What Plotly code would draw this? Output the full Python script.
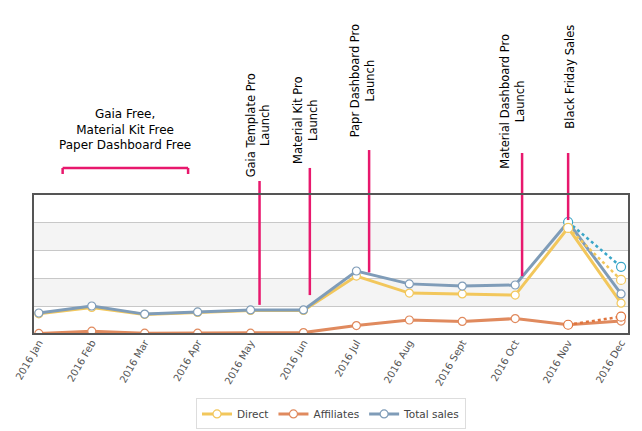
import plotly.graph_objects as go

months = ["2016 Jan","2016 Feb","2016 Mar","2016 Apr","2016 May","2016 Jun",
          "2016 Jul","2016 Aug","2016 Sept","2016 Oct","2016 Nov","2016 Dec"]
direct = [0.72,0.95,0.70,0.77,0.84,0.84,2.07,1.46,1.43,1.39,3.79,1.10]
affiliates = [0.02,0.10,0.03,0.03,0.03,0.05,0.30,0.50,0.45,0.55,0.33,0.46]
total = [0.75,1.00,0.71,0.79,0.86,0.86,2.25,1.79,1.71,1.75,4.00,1.43]
proj_direct = [3.79,1.93]
proj_aff = [0.33,0.62]
proj_total = [4.00,2.40]

events = ["Gaia Template Pro<br>Launch","Material Kit Pro<br>Launch","Papr Dashboard Pro<br>Launch",
          "Material Dashboard Pro<br>Launch","Black Friday Sales"]
event_x = [4.17,5.12,6.24,9.13,10.0]
event_bottom = [1.04,1.39,2.2,2.07,4.07]
event_top = [1.093,1.186,1.314,1.293,1.293]
event_text_x = [4.14,5.05,6.12,8.96,10.04]
event_text_y = [1.49,1.53,1.81,1.66,1.84]

YMAX = 5
x = list(range(len(months)))
fig = go.Figure()
cols = {"Direct":"#f2c75c","Affiliates":"#e08a5e","Total sales":"#7f9cb8"}
for name, vals in [("Direct",direct),("Affiliates",affiliates),("Total sales",total)]:
    fig.add_trace(go.Scatter(x=x, y=vals, name=name, mode="lines+markers",
        line=dict(color=cols[name], width=3),
        marker=dict(symbol="circle", size=8, color="white", line=dict(color=cols[name], width=1.2))))
for vals, c in [(proj_total,"#3aa6c8"),(proj_direct,"#f2c75c"),(proj_aff,"#e0753e")]:
    fig.add_trace(go.Scatter(x=[10,11], y=vals, mode="lines+markers", showlegend=False,
        line=dict(color=c, width=2.5, dash="dot"),
        marker=dict(symbol="circle", size=9, color="white", line=dict(color=c, width=1.2))))

shapes = []
for lo, hi in [(1,2),(3,4)]:
    shapes.append(dict(type="rect", xref="paper", yref="y", x0=0, x1=1, y0=lo, y1=hi,
                       fillcolor="#f4f4f4", line_width=0, layer="below"))
for ex, eb, et in zip(event_x, event_bottom, event_top):
    shapes.append(dict(type="line", xref="x", yref="paper", x0=ex, x1=ex, y0=eb/YMAX, y1=et,
                       line=dict(color="#e8186d", width=2.5)))
for seg in [(0.45,1.143,0.45,1.186),(0.45,1.186,2.82,1.186),(2.82,1.186,2.82,1.143)]:
    shapes.append(dict(type="line", xref="x", yref="paper", x0=seg[0], y0=seg[1], x1=seg[2], y1=seg[3],
                       line=dict(color="#e8186d", width=2.5)))
shapes.append(dict(type="rect", xref="paper", yref="paper", x0=0, x1=1, y0=0, y1=1,
                   line=dict(color="#555", width=2)))

anns = [dict(x=tx, y=ty, xref="x", yref="paper", text=t, textangle=-90, showarrow=False,
             xanchor="center", yanchor="middle",
             font=dict(size=11.5, color="black")) for t, tx, ty in zip(events, event_text_x, event_text_y)]
anns.append(dict(x=1.63, y=1.46, xref="x", yref="paper", showarrow=False,
                 xanchor="center", yanchor="middle",
                 text="Gaia Free,<br>Material Kit Free<br>Paper Dashboard Free",
                 font=dict(size=12, color="black")))

fig.update_layout(
    width=642, height=431, margin=dict(l=25, r=21, t=186, b=105, autoexpand=False),
    paper_bgcolor="white", plot_bgcolor="white",
    font=dict(family="DejaVu Sans", size=11, color="#555"),
    shapes=shapes, annotations=anns,
    xaxis=dict(range=[-0.11, 11.15], tickvals=x, ticktext=months, tickangle=-60, automargin=False,
               showgrid=False, zeroline=False, tickfont=dict(size=10, color="#555")),
    yaxis=dict(range=[0, YMAX], dtick=1, showticklabels=False, gridcolor="#c8c8c8",
               zeroline=False, automargin=False),
    legend=dict(orientation="h", x=0.5, xanchor="center", y=-0.46, yanchor="top",
                bordercolor="#ddd", borderwidth=1, font=dict(size=10.5, color="#444")),
)
fig.write_html("out.html")
